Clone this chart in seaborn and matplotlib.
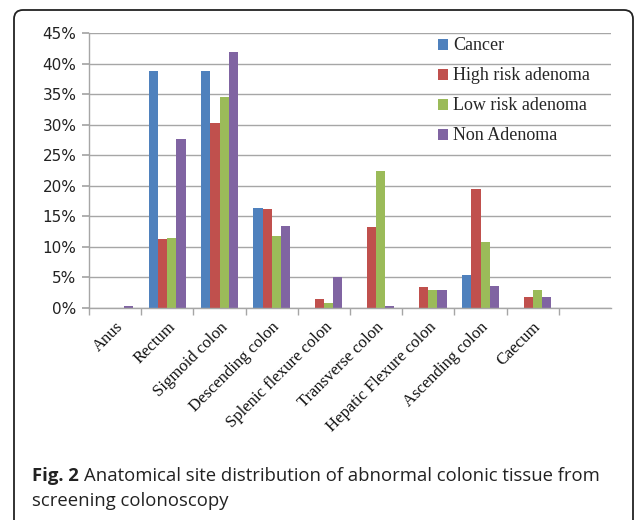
import numpy as np
import pandas as pd
import matplotlib
matplotlib.use("Agg")
import matplotlib.pyplot as plt
import seaborn as sns
from matplotlib.patches import FancyBboxPatch, Patch
from matplotlib.transforms import IdentityTransform
from matplotlib.ticker import FuncFormatter, FixedLocator

sites = ["Anus", "Rectum", "Sigmoid colon", "Descending colon", "Splenic flexure colon",
         "Transverse colon", "Hepatic Flexure colon", "Ascending colon", "Caecum"]
groups = ["Cancer", "High risk adenoma", "Low risk adenoma", "Non Adenoma"]
cancer = [0.0, 38.7, 38.7, 16.4, 0.0, 0.0, 0.0, 5.4, 0.0]
high_risk = [0.0, 11.3, 30.3, 16.2, 1.4, 13.2, 3.4, 19.4, 1.8]
low_risk = [0.0, 11.5, 34.5, 11.8, 0.8, 22.5, 3.0, 10.8, 3.0]
non_adenoma = [0.4, 27.7, 41.9, 13.4, 5.0, 0.3, 3.0, 3.6, 1.8]
yticks = [0, 5, 10, 15, 20, 25, 30, 35, 40, 45]
colors = ["#4F81BD", "#C0504D", "#9BBB59", "#8064A2"]

rows = []
for g, vals in zip(groups, [cancer, high_risk, low_risk, non_adenoma]):
    for s, v in zip(sites, vals):
        rows.append({"site": s, "group": g, "value": v})
df = pd.DataFrame(rows)

sns.set_theme(style="white")
W, H = 635, 520
fig = plt.figure(figsize=(W / 100, H / 100), dpi=100)
fig.patch.set_facecolor("white")

ax = fig.add_axes([89 / W, 1 - 308 / H, (611 - 89) / W, (308 - 33) / H])
sns.barplot(data=df, x="site", y="value", hue="group", order=sites, hue_order=groups,
            palette=colors, width=0.7, gap=0, saturation=1, ax=ax, legend=False,
            edgecolor="none", linewidth=0)

ax.set_xlim(-0.5, 9.5)
ax.set_ylim(0, 45)
ax.set_yticks(yticks)
ax.yaxis.set_major_formatter(FuncFormatter(lambda v, p: f"{int(v)}%"))
ax.grid(axis="y", color="#A6A6A6", linewidth=1)
ax.set_axisbelow(True)
for side in ["top", "right"]:
    ax.spines[side].set_visible(False)
for side in ["left", "bottom"]:
    ax.spines[side].set_color("#A6A6A6")
    ax.spines[side].set_linewidth(1)
ax.set_xlabel("")
ax.set_ylabel("")

ax.tick_params(axis="y", which="major", left=True, length=5, color="#A6A6A6",
               labelsize=11, pad=4, labelcolor="#222222")
for t in ax.get_yticklabels():
    t.set_fontfamily("DejaVu Sans")

ax.xaxis.set_major_locator(FixedLocator(np.arange(len(sites))))
ax.set_xticklabels(sites, rotation=45, ha="right", rotation_mode="anchor",
                   fontfamily="Liberation Serif", fontsize=12, color="#111111")
ax.tick_params(axis="x", which="major", length=0, pad=8)
ax.xaxis.set_minor_locator(FixedLocator(np.arange(-0.5, len(sites), 1.0)))
ax.tick_params(axis="x", which="minor", bottom=True, length=5, color="#A6A6A6")

handles = [Patch(facecolor=c, edgecolor="none") for c in colors]
leg = ax.legend(handles, groups, loc="upper left", bbox_to_anchor=(0.655, 1.01),
                frameon=False, prop={"family": "Liberation Serif", "size": 13},
                handlelength=0.55, handleheight=0.55, handletextpad=0.3, labelspacing=0.72,
                borderaxespad=0)

# figure frame with rounded corners
box = FancyBboxPatch((14, -30), 633 - 14, (H - 10) + 30, boxstyle="round,pad=0,rounding_size=9",
                     transform=IdentityTransform(), facecolor="none", edgecolor="#222222",
                     linewidth=1.3, clip_on=False)
fig.patches.append(box)

fs = 13.3
t1 = fig.text(32 / W, 1 - 476 / H, "Fig. 2", fontfamily="Open Sans", fontweight="bold",
              fontsize=fs, va="center", ha="left", color="#222222")
fig.canvas.draw()
bb = t1.get_window_extent()
fig.text((bb.x1 + 5) / W, 1 - 476 / H,
         "Anatomical site distribution of abnormal colonic tissue from",
         fontfamily="Open Sans", fontsize=fs, va="center", ha="left", color="#222222")
fig.text(32 / W, 1 - 501 / H, "screening colonoscopy", fontfamily="Open Sans",
         fontsize=fs, va="center", ha="left", color="#222222")

fig.savefig("out.png", dpi=100)
